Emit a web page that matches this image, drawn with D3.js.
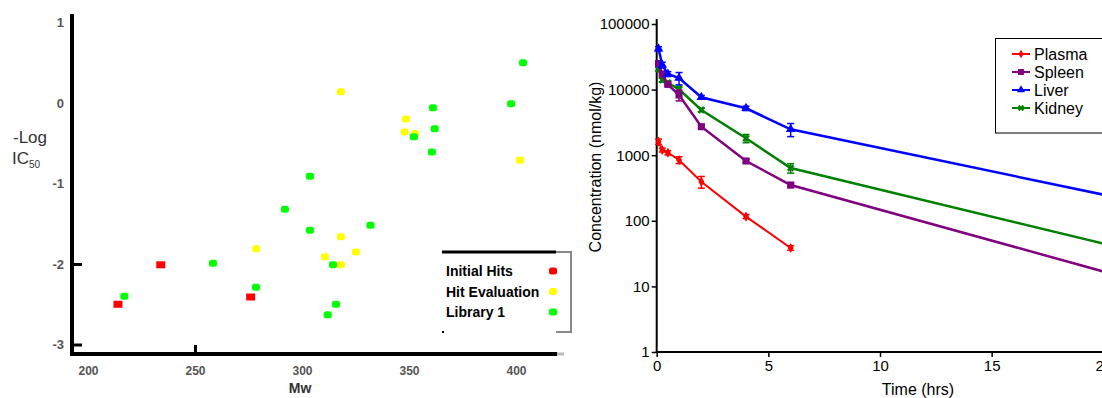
<!DOCTYPE html>
<html>
<head>
<meta charset="utf-8">
<script src="https://cdn.jsdelivr.net/npm/d3@7/dist/d3.min.js"></script>
<style>
  html, body { margin: 0; padding: 0; background: #fff; }
  svg { display: block; font-family: "Liberation Sans", Arial, sans-serif; }
</style>
</head>
<body>
<svg id="chart" width="1102" height="398"></svg>
<script>
// ---------- Left panel data: -Log IC50 vs Mw ----------
const initialHitsMw   = [214, 234, 276];
const initialHitsLog  = [-2.50, -2.01, -2.41];
const hitEvalMw       = [278.6, 318.2, 348.6, 348.0, 352.8, 401.9, 318.2, 310.7, 325.2, 318.2];
const hitEvalLog      = [-1.81, 0.14, -0.20, -0.36, -0.38, -0.71, -1.66, -1.91, -1.85, -2.01];
const library1Mw      = [217, 258.4, 278.5, 292, 303.7, 361.2, 362, 352.3, 360.7, 403.3, 397.7, 303.7, 332, 314.5, 315.9, 312];
const library1Log     = [-2.40, -1.99, -2.29, -1.32, -0.91, -0.06, -0.32, -0.42, -0.61, 0.50, -0.01, -1.58, -1.52, -2.01, -2.50, -2.63];
const leftXTicks      = [200, 250, 300, 350, 400];
const leftYTicks      = [-3, -2, -1, 0, 1];
const leftSeriesNames = ["Initial Hits", "Hit Evaluation", "Library 1"];

// ---------- Right panel data: concentration vs time ----------
const timeHrs       = [0.083, 0.25, 0.5, 1, 2, 4, 6, 24];
const plasmaConc    = [1610, 1200, 1090, 845, 394, 116, 38.5];
const plasmaSD      = [150, 80, 80, 100, 80, 8, 3];
const spleenConc    = [25000, 17300, 12000, 8280, 2720, 816, 351, 7.1];
const spleenSD      = [2500, 1500, 600, 1550, 150, 50, 30, 0];
const liverConc     = [42000, 23700, 17300, 15000, 7640, 5190, 2480, 130];
const liverSD       = [3000, 2400, 1500, 3200, 500, 400, 560, 0];
const kidneyConc    = [20600, 14000, 12700, 10100, 4890, 1810, 638, 21];
const kidneySD      = [1500, 1000, 800, 1200, 300, 260, 105, 0];
const rightXTicks   = [0, 5, 10, 15, 20];
const rightYTicks   = [1, 10, 100, 1000, 10000, 100000];
const rightSeriesNames = ["Plasma", "Spleen", "Liver", "Kidney"];

const svg = d3.select("#chart");

// ================= LEFT PANEL =================
(function () {
  const x = d3.scaleLinear([200, 400], [88, 516]);
  const y = d3.scaleLinear([-3, 1], [344.5, 22.5]);
  const g = svg.append("g");

  // axis lines
  g.append("line").attr("x1", 72).attr("x2", 72).attr("y1", 14).attr("y2", 356)
    .attr("stroke", "#000").attr("stroke-width", 4);
  g.append("line").attr("x1", 70).attr("x2", 557).attr("y1", 354).attr("y2", 354)
    .attr("stroke", "#000").attr("stroke-width", 4);
  g.append("line").attr("x1", 557).attr("x2", 564).attr("y1", 354).attr("y2", 354)
    .attr("stroke", "#bbb").attr("stroke-width", 3);

  // y tick labels
  const yAx = d3.axisLeft(y).tickValues(leftYTicks).tickSize(0).tickPadding(8)
    .tickFormat(d => d < 0 ? "-" + Math.abs(d) : d);
  const ya = g.append("g").attr("transform", "translate(72,0)").call(yAx);
  ya.select(".domain").remove();
  ya.selectAll("text").attr("font-size", 13).attr("font-weight", "bold").attr("fill", "#555");
  // inward ticks on y
  const yAx2 = d3.axisRight(y).tickValues([-3, -2]).tickSize(10).tickFormat("");
  const yb = g.append("g").attr("transform", "translate(72,0)").call(yAx2);
  yb.select(".domain").remove();
  yb.selectAll("line").attr("stroke", "#000").attr("stroke-width", 3);

  // x tick labels
  const xAx = d3.axisBottom(x).tickValues(leftXTicks).tickSize(0).tickPadding(12);
  const xa = g.append("g").attr("transform", "translate(0,354)").call(xAx);
  xa.select(".domain").remove();
  xa.selectAll("text").attr("font-size", 12).attr("font-weight", "bold").attr("fill", "#555");
  // inward tick at 250
  const xAx2 = d3.axisTop(x).tickValues([250]).tickSize(9).tickFormat("");
  const xb = g.append("g").attr("transform", "translate(0,354)").call(xAx2);
  xb.select(".domain").remove();
  xb.selectAll("line").attr("stroke", "#000").attr("stroke-width", 3);

  // axis titles
  g.append("text").attr("x", 300).attr("y", 393).attr("text-anchor", "middle")
    .attr("font-size", 14).attr("font-weight", "bold").attr("fill", "#333").text("Mw");
  g.append("text").attr("x", 30).attr("y", 143).attr("text-anchor", "middle")
    .attr("font-size", 17).attr("fill", "#333").text("-Log");
  const ic = g.append("text").attr("x", 12).attr("y", 164).attr("font-size", 17).attr("fill", "#333");
  ic.append("tspan").text("IC");
  ic.append("tspan").attr("font-size", 10).attr("dy", 4).text("50");

  // points
  const groups = [
    { mw: initialHitsMw, v: initialHitsLog, color: "#ff0000", w: 9, h: 7, r: 0 },
    { mw: hitEvalMw, v: hitEvalLog, color: "#ffff00", w: 8, h: 7, r: 2.5 },
    { mw: library1Mw, v: library1Log, color: "#00ff00", w: 8, h: 7, r: 2.5 }
  ];
  groups.forEach(gr => {
    g.selectAll(null).data(gr.mw.map((m, i) => [m, gr.v[i]])).enter().append("rect")
      .attr("x", d => x(d[0]) - gr.w / 2).attr("y", d => y(d[1]) - gr.h / 2)
      .attr("width", gr.w).attr("height", gr.h).attr("rx", gr.r)
      .attr("fill", gr.color);
  });

  // legend
  const lg = g.append("g");
  lg.append("line").attr("x1", 442).attr("x2", 556).attr("y1", 252).attr("y2", 252)
    .attr("stroke", "#000").attr("stroke-width", 3);
  lg.append("path").attr("d", "M556,252 H571 V332 H556").attr("fill", "none")
    .attr("stroke", "#888").attr("stroke-width", 2);
  lg.append("rect").attr("x", 442).attr("y", 331).attr("width", 2).attr("height", 2).attr("fill", "#000");
  const legColors = ["#ff0000", "#ffff00", "#00ff00"];
  leftSeriesNames.forEach((name, i) => {
    const yy = 271 + i * 20.5;
    lg.append("text").attr("x", 446).attr("y", yy + 5).attr("font-size", 14)
      .attr("font-weight", "bold").attr("fill", "#000").text(name);
    lg.append("rect").attr("x", 549).attr("y", yy - 3.5).attr("width", 8).attr("height", 7)
      .attr("rx", 2.5).attr("fill", legColors[i]);
  });
})();

// ================= RIGHT PANEL =================
(function () {
  const x = d3.scaleLinear([0, 20], [656.7, 1103.3]);
  const y = d3.scaleLog([1, 100000], [352, 24]);
  const g = svg.append("g");

  // axes
  const yAx = d3.axisLeft(y).tickValues(rightYTicks).tickSize(5).tickPadding(2)
    .tickFormat(d3.format("d"));
  const ya = g.append("g").attr("transform", "translate(656.7,0)").call(yAx);
  ya.select(".domain").remove();
  ya.selectAll("text").attr("font-size", 15).attr("fill", "#000");
  ya.selectAll("line").attr("stroke", "#000").attr("stroke-width", 1.5);
  g.append("line").attr("x1", 656.7).attr("x2", 656.7).attr("y1", 19).attr("y2", 353)
    .attr("stroke", "#000").attr("stroke-width", 2);

  const xAx = d3.axisBottom(x).tickValues(rightXTicks).tickSize(5).tickPadding(3);
  const xa = g.append("g").attr("transform", "translate(0,352)").call(xAx);
  xa.select(".domain").remove();
  xa.selectAll("text").attr("font-size", 15).attr("fill", "#000");
  xa.selectAll("line").attr("stroke", "#000").attr("stroke-width", 1.5);
  g.append("line").attr("x1", 655.7).attr("x2", 1102).attr("y1", 352).attr("y2", 352)
    .attr("stroke", "#000").attr("stroke-width", 2);

  g.append("text").attr("x", 918).attr("y", 395).attr("text-anchor", "middle")
    .attr("font-size", 16).attr("fill", "#000").text("Time (hrs)");
  g.append("text").attr("transform", "translate(601,167) rotate(-90)").attr("text-anchor", "middle")
    .attr("font-size", 16).attr("fill", "#000").text("Concentration (nmol/kg)");

  const series = [
    { name: "Plasma", v: plasmaConc, sd: plasmaSD, color: "#ff0000", sym: d3.symbolDiamond, size: 30, lw: 2 },
    { name: "Spleen", v: spleenConc, sd: spleenSD, color: "#800080", sym: d3.symbolSquare, size: 50, lw: 2.5 },
    { name: "Liver",  v: liverConc,  sd: liverSD,  color: "#0000ff", sym: d3.symbolTriangle, size: 40, lw: 2.5 },
    { name: "Kidney", v: kidneyConc, sd: kidneySD, color: "#008000", sym: d3.symbolCross, size: 35, lw: 2.5 }
  ];
  const line = d3.line().x(d => x(d.t)).y(d => y(d.c));

  const drawOrder = [0, 3, 1, 2];
  drawOrder.forEach(si => {
    const s = series[si];
    const pts = s.v.map((c, i) => ({ t: timeHrs[i], c: c, sd: s.sd[i] }));
    const sg = g.append("g");
    sg.append("path").datum(pts).attr("d", line).attr("fill", "none")
      .attr("stroke", s.color).attr("stroke-width", s.lw);
    const eb = sg.selectAll(null).data(pts.filter(d => d.sd > 0)).enter().append("g");
    eb.append("line").attr("x1", d => x(d.t)).attr("x2", d => x(d.t))
      .attr("y1", d => y(d.c + d.sd)).attr("y2", d => y(Math.max(d.c - d.sd, 1)))
      .attr("stroke", s.color).attr("stroke-width", 1.5);
    eb.append("line").attr("x1", d => x(d.t) - 3.5).attr("x2", d => x(d.t) + 3.5)
      .attr("y1", d => y(d.c + d.sd)).attr("y2", d => y(d.c + d.sd))
      .attr("stroke", s.color).attr("stroke-width", 1.5);
    eb.append("line").attr("x1", d => x(d.t) - 3.5).attr("x2", d => x(d.t) + 3.5)
      .attr("y1", d => y(Math.max(d.c - d.sd, 1))).attr("y2", d => y(Math.max(d.c - d.sd, 1)))
      .attr("stroke", s.color).attr("stroke-width", 1.5);
    sg.selectAll(null).data(pts).enter().append("path")
      .attr("transform", d => `translate(${x(d.t)},${y(d.c)})` + (s.sym === d3.symbolCross ? " rotate(45)" : ""))
      .attr("d", d3.symbol().type(s.sym).size(s.size))
      .attr("fill", s.color);
  });

  // legend
  const lg = g.append("g");
  lg.append("rect").attr("x", 995.5).attr("y", 38.5).attr("width", 120).attr("height", 94.5)
    .attr("fill", "#fff").attr("stroke", "#000").attr("stroke-width", 1);
  series.forEach((s, i) => {
    const yy = 54 + i * 18;
    lg.append("line").attr("x1", 1012).attr("x2", 1030).attr("y1", yy).attr("y2", yy)
      .attr("stroke", s.color).attr("stroke-width", 2);
    lg.append("path").attr("transform", `translate(1021,${yy})` + (s.sym === d3.symbolCross ? " rotate(45)" : ""))
      .attr("d", d3.symbol().type(s.sym).size(s.size * 0.7)).attr("fill", s.color);
    lg.append("text").attr("x", 1034).attr("y", yy + 5.5).attr("font-size", 16)
      .attr("fill", "#000").text(s.name);
  });
})();
</script>
</body>
</html>
